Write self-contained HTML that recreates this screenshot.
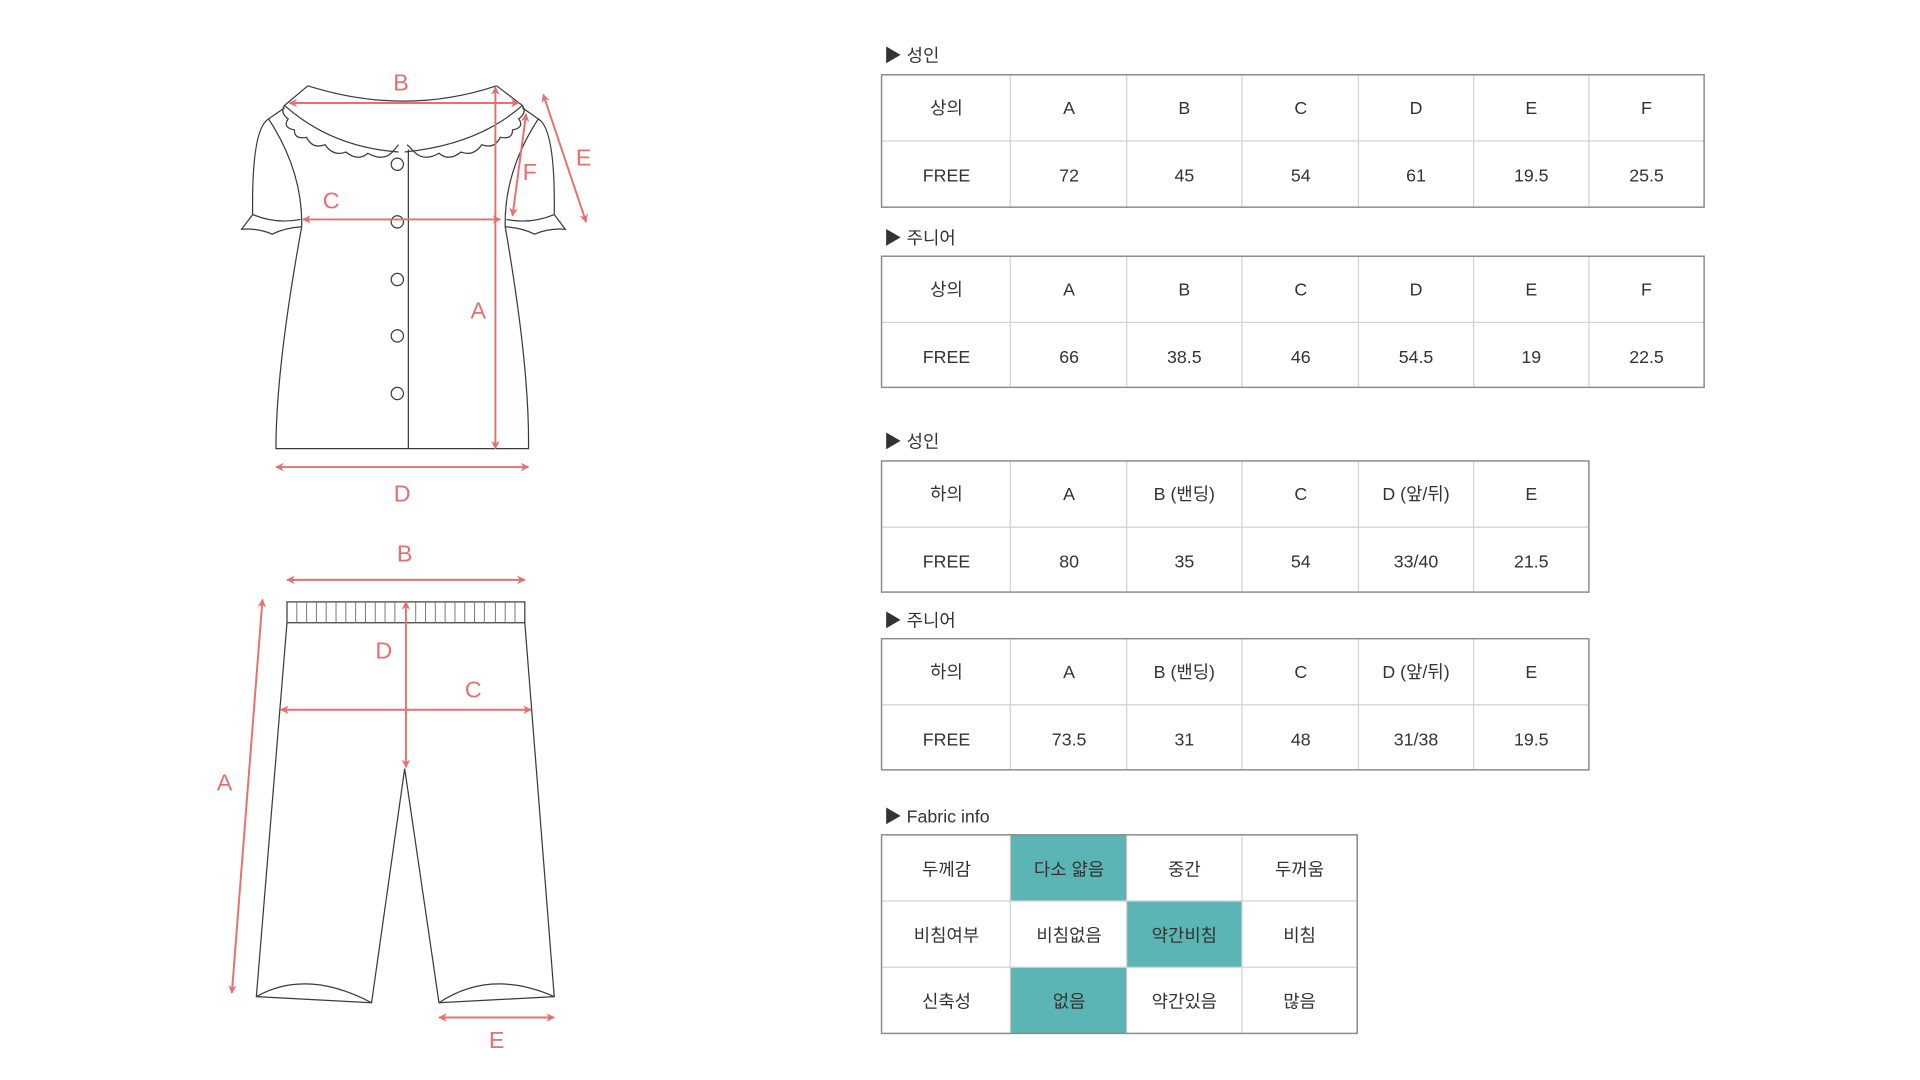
<!DOCTYPE html>
<html><head><meta charset="utf-8"><style>
html,body{margin:0;padding:0;background:#fff;}
svg{display:block;}
text{font-family:"Liberation Sans","Noto Sans CJK KR",sans-serif;}
.t{font-size:14.5px;fill:#333;text-anchor:middle;}
.h{font-size:14.5px;fill:#333;}
.r{font-size:19px;fill:#e76f6f;text-anchor:middle;}
.ln{stroke:#d2d2d2;stroke-width:1;fill:none;}
.ob{stroke:#8a8a8a;stroke-width:1.2;fill:none;}
.g{stroke:#3a3a3a;stroke-width:1;fill:none;}
.hl{stroke:#777;stroke-width:0.8;fill:none;}
.a{stroke:#e76f6f;stroke-width:1.6;fill:none;}
</style></head><body>
<svg width="1920" height="1080" viewBox="0 0 1566 881" xmlns="http://www.w3.org/2000/svg">
<defs>
<marker id="m" viewBox="0 0 10 10" refX="9" refY="5" markerWidth="7" markerHeight="7" orient="auto-start-reverse" markerUnits="userSpaceOnUse"><path d="M0,0 L10,5 L0,10 L3,5 Z" fill="#e76f6f"/></marker>
</defs>

<g class="g">
<path d="M251,70 Q330,95 405,70"/>
<path d="M251,70 L232,86 Q270,120 325,124"/>
<path d="M405,70 L426,86 Q390,118 330,124"/>
<path d="M232,86 Q228,92 235,97 Q230,104 240,106 Q240,114 250,112 Q255,122 265,118 Q272,128 282,124 Q292,132 300,125 Q312,132 320,124 L325,118"/>
<path d="M426,86 Q430,92 423,97 Q428,104 418,106 Q418,114 408,112 Q403,122 393,118 Q386,128 376,124 Q366,132 358,125 Q346,132 338,124 L332,118"/>
<path d="M232,88 L219,97 Q205,105 206,175 L197,187 Q210,186 222,191 Q232,186 246,185"/>
<path d="M206,175 Q225,183 245,179"/>
<path d="M219,97 Q247,140 246,185"/>
<path d="M426,88 L439,97 Q453,105 452,175 L461,187 Q448,186 436,191 Q426,186 412,185"/>
<path d="M452,175 Q433,183 413,179"/>
<path d="M439,97 Q411,140 412,185"/>
<path d="M246,185 Q225,300 225,366 L431,366 Q432,300 412,185"/>
<path d="M333,122 L333,366"/>
<circle cx="324" cy="134" r="5"/><circle cx="324" cy="181" r="5"/><circle cx="324" cy="228" r="5"/><circle cx="324" cy="274" r="5"/><circle cx="324" cy="321" r="5"/>
</g>
<g class="a">
<line x1="236" y1="84" x2="423" y2="84" marker-start="url(#m)" marker-end="url(#m)"/>
<line x1="404" y1="71" x2="404" y2="366" marker-start="url(#m)" marker-end="url(#m)"/>
<line x1="247" y1="179" x2="408" y2="179" marker-start="url(#m)" marker-end="url(#m)"/>
<line x1="225" y1="381" x2="431" y2="381" marker-start="url(#m)" marker-end="url(#m)"/>
<line x1="443" y1="77" x2="478" y2="181" marker-start="url(#m)" marker-end="url(#m)"/>
<line x1="429" y1="93" x2="418" y2="176" marker-start="url(#m)" marker-end="url(#m)"/>
</g>
<text class="r" x="327" y="74">B</text>
<text class="r" x="390" y="260">A</text>
<text class="r" x="270" y="170">C</text>
<text class="r" x="328" y="409">D</text>
<text class="r" x="476" y="135">E</text>
<text class="r" x="432" y="147">F</text>

<g class="g">
<rect x="234" y="491" width="194" height="17"/>
<path d="M234,508 L209,813 L303,818 L330,627 L358,818 L452,813 L428,508"/>
<path d="M209,813 Q250,790 303,818"/>
<path d="M358,818 Q400,790 452,813"/>
</g>
<path class="hl" d="M242,491v17M250,491v17M258,491v17M266,491v17M274,491v17M282,491v17M290,491v17M298,491v17M306,491v17M314,491v17M322,491v17M331,491v17M339,491v17M347,491v17M355,491v17M363,491v17M371,491v17M379,491v17M387,491v17M395,491v17M404,491v17M412,491v17M420,491v17"/>
<g class="a">
<line x1="234" y1="473" x2="428" y2="473" marker-start="url(#m)" marker-end="url(#m)"/>
<line x1="214" y1="489" x2="189" y2="810" marker-start="url(#m)" marker-end="url(#m)"/>
<line x1="331" y1="491" x2="331" y2="626" marker-start="url(#m)" marker-end="url(#m)"/>
<line x1="229" y1="579" x2="433" y2="579" marker-start="url(#m)" marker-end="url(#m)"/>
<line x1="358" y1="830" x2="452" y2="830" marker-start="url(#m)" marker-end="url(#m)"/>
</g>
<text class="r" x="330" y="458">B</text>
<text class="r" x="183" y="645">A</text>
<text class="r" x="313" y="537">D</text>
<text class="r" x="386" y="569">C</text>
<text class="r" x="405" y="855">E</text>

<text class="h" x="721" y="50">▶ 성인</text>
<g class="ln"><path d="M824,61V169M919,61V169M1013,61V169M1108,61V169M1202,61V169M1296,61V169M719,115H1390"/></g>
<rect class="ob" x="719" y="61" width="671" height="108"/>
<g class="t">
<text x="772" y="93">상의</text><text x="872" y="93">A</text><text x="966" y="93">B</text><text x="1061" y="93">C</text><text x="1155" y="93">D</text><text x="1249" y="93">E</text><text x="1343" y="93">F</text>
<text x="772" y="148">FREE</text><text x="872" y="148">72</text><text x="966" y="148">45</text><text x="1061" y="148">54</text><text x="1155" y="148">61</text><text x="1249" y="148">19.5</text><text x="1343" y="148">25.5</text>
</g>

<text class="h" x="721" y="199">▶ 주니어</text>
<g class="ln"><path d="M824,209V316M919,209V316M1013,209V316M1108,209V316M1202,209V316M1296,209V316M719,263H1390"/></g>
<rect class="ob" x="719" y="209" width="671" height="107"/>
<g class="t">
<text x="772" y="241">상의</text><text x="872" y="241">A</text><text x="966" y="241">B</text><text x="1061" y="241">C</text><text x="1155" y="241">D</text><text x="1249" y="241">E</text><text x="1343" y="241">F</text>
<text x="772" y="296">FREE</text><text x="872" y="296">66</text><text x="966" y="296">38.5</text><text x="1061" y="296">46</text><text x="1155" y="296">54.5</text><text x="1249" y="296">19</text><text x="1343" y="296">22.5</text>
</g>

<text class="h" x="721" y="365">▶ 성인</text>
<g class="ln"><path d="M824,376V483M919,376V483M1013,376V483M1108,376V483M1202,376V483M719,430H1296"/></g>
<rect class="ob" x="719" y="376" width="577" height="107"/>
<g class="t">
<text x="772" y="408">하의</text><text x="872" y="408">A</text><text x="966" y="408">B (밴딩)</text><text x="1061" y="408">C</text><text x="1155" y="408">D (앞/뒤)</text><text x="1249" y="408">E</text>
<text x="772" y="463">FREE</text><text x="872" y="463">80</text><text x="966" y="463">35</text><text x="1061" y="463">54</text><text x="1155" y="463">33/40</text><text x="1249" y="463">21.5</text>
</g>

<text class="h" x="721" y="511">▶ 주니어</text>
<g class="ln"><path d="M824,521V628M919,521V628M1013,521V628M1108,521V628M1202,521V628M719,575H1296"/></g>
<rect class="ob" x="719" y="521" width="577" height="107"/>
<g class="t">
<text x="772" y="553">하의</text><text x="872" y="553">A</text><text x="966" y="553">B (밴딩)</text><text x="1061" y="553">C</text><text x="1155" y="553">D (앞/뒤)</text><text x="1249" y="553">E</text>
<text x="772" y="608">FREE</text><text x="872" y="608">73.5</text><text x="966" y="608">31</text><text x="1061" y="608">48</text><text x="1155" y="608">31/38</text><text x="1249" y="608">19.5</text>
</g>

<text class="h" x="721" y="671">▶ Fabric info</text>
<rect x="824" y="681" width="95" height="54" fill="#5bb5b4"/>
<rect x="919" y="735" width="94" height="54" fill="#5bb5b4"/>
<rect x="824" y="789" width="95" height="54" fill="#5bb5b4"/>
<g class="ln"><path d="M824,681V843M919,681V843M1013,681V843M719,735H1107M719,789H1107"/></g>
<rect class="ob" x="719" y="681" width="388" height="162"/>
<g class="t">
<text x="772" y="714">두께감</text><text x="872" y="714">다소 얇음</text><text x="966" y="714">중간</text><text x="1060" y="714">두꺼움</text>
<text x="772" y="768">비침여부</text><text x="872" y="768">비침없음</text><text x="966" y="768">약간비침</text><text x="1060" y="768">비침</text>
<text x="772" y="822">신축성</text><text x="872" y="822">없음</text><text x="966" y="822">약간있음</text><text x="1060" y="822">많음</text>
</g>
</svg>
</body></html>
